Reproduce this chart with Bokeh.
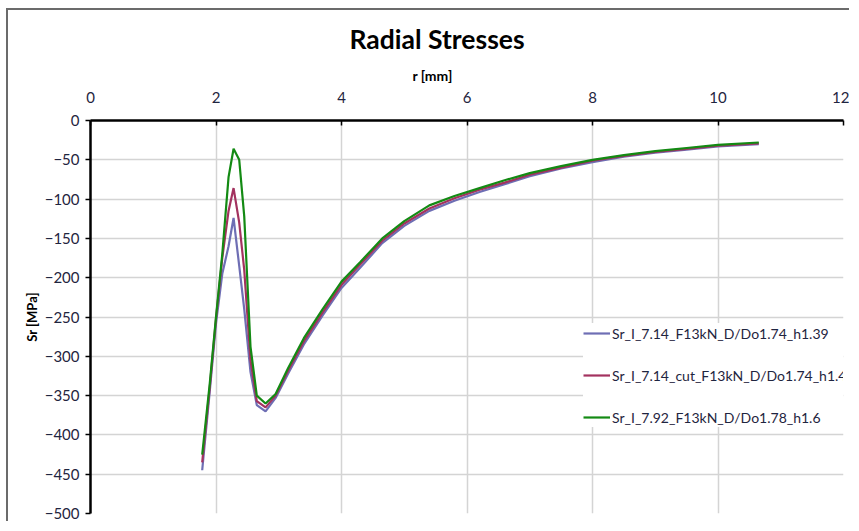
from bokeh.plotting import figure
from bokeh.models import FixedTicker, LinearAxis, Legend, LegendItem, Title, Range1d
from bokeh.embed import file_html
from bokeh.resources import INLINE

# radius values [mm]
r = [1.78, 1.9, 2.0, 2.1, 2.2, 2.28, 2.37, 2.45, 2.55, 2.65, 2.79, 2.95, 3.15,
     3.4, 3.7, 4.0, 4.3, 4.65, 5.0, 5.4, 5.8, 6.2, 6.6, 7.0, 7.5, 8.0, 8.5,
     9.0, 9.5, 10.0, 10.65]

sr_714 = [-445, -345, -258, -195, -160, -124, -185, -240, -320, -362, -370, -353,
          -322, -285, -248, -213, -187, -156, -134, -115, -102, -91, -81, -71,
          -61, -53, -46, -41, -37, -33, -30]

sr_714_cut = [-435, -340, -252, -175, -115, -86, -130, -190, -305, -357, -365,
              -350, -318, -281, -244, -209, -183, -153, -131, -112, -99, -88,
              -79, -69, -60, -51, -45, -40, -36, -32, -29]

sr_792 = [-425, -335, -250, -170, -72, -36, -50, -122, -288, -350, -360, -348,
          -315, -277, -240, -205, -180, -150, -128, -108, -96, -86, -76, -67,
          -58, -50, -44, -39, -35, -31, -28]

names = ["Sr_I_7.14_F13kN_D/Do1.74_h1.39",
         "Sr_I_7.14_cut_F13kN_D/Do1.74_h1.44",
         "Sr_I_7.92_F13kN_D/Do1.78_h1.6"]
colors = ["#6E6EB4", "#A3325F", "#138A13"]

x_ticks = [0, 2, 4, 6, 8, 10, 12]
y_ticks = [0, -50, -100, -150, -200, -250, -300, -350, -400, -450, -500]

FONT = "Lato"
TICK_COLOR = "#1f2540"

p = figure(width=843, height=513, output_backend="svg", toolbar_location=None,
           x_range=Range1d(0, 12), y_range=Range1d(-500, 0),
           x_axis_location=None, y_axis_location=None,
           min_border_left=82, min_border_right=8, min_border_top=110,
           min_border_bottom=10)
p.styles = {"border-left": "2px solid #6b6b6b", "border-top": "2px solid #6b6b6b",
            "margin-left": "6px", "margin-top": "8px"}
p.outline_line_color = None
p.background_fill_color = "white"
p.border_fill_color = "white"

xaxis = LinearAxis(ticker=FixedTicker(ticks=x_ticks))
xaxis.axis_line_width = 2.5
xaxis.axis_line_color = "black"
xaxis.major_tick_in = 5
xaxis.major_tick_out = 0
xaxis.major_tick_line_color = "black"
xaxis.major_tick_line_width = 1.5
xaxis.minor_tick_line_color = None
xaxis.major_label_standoff = 18
xaxis.major_label_text_font = FONT
xaxis.major_label_text_font_size = "15px"
xaxis.major_label_text_color = TICK_COLOR
p.add_layout(xaxis, "above")

xlabel = Title(text="r [mm]", align="left", offset=322,
               text_font=FONT, text_font_size="14px", text_font_style="bold",
               text_color="black", standoff=9)
p.add_layout(xlabel, "above")

yaxis = LinearAxis(ticker=FixedTicker(ticks=y_ticks), axis_label="Sr [MPa]")
yaxis.axis_line_width = 2.5
yaxis.axis_line_color = "black"
yaxis.major_tick_in = 0
yaxis.major_tick_out = 5
yaxis.major_tick_line_color = "black"
yaxis.major_tick_line_width = 1.5
yaxis.minor_tick_line_color = None
yaxis.major_label_standoff = 6
yaxis.major_label_text_font = FONT
yaxis.major_label_text_font_size = "15px"
yaxis.major_label_text_color = TICK_COLOR
yaxis.axis_label_text_font = FONT
yaxis.axis_label_text_font_style = "bold"
yaxis.axis_label_text_font_size = "13px"
yaxis.axis_label_text_color = "black"
yaxis.axis_label_standoff = 2
p.add_layout(yaxis, "left")

p.xgrid.ticker = FixedTicker(ticks=x_ticks)
p.ygrid.ticker = FixedTicker(ticks=y_ticks)
for g in (p.xgrid, p.ygrid):
    g.grid_line_color = "#D4D4D4"
    g.grid_line_width = 1.5

title = Title(text="Radial Stresses", align="left", offset=259,
              text_font=FONT, text_font_size="26.5px", text_font_style="bold",
              text_color="black", standoff=12)
p.add_layout(title, "above")

items = []
for ys, name, col in zip([sr_714, sr_714_cut, sr_792], names, colors):
    rl = p.line(r, ys, line_color=col, line_width=2.2)
    items.append(LegendItem(label=name, renderers=[rl]))

legend = Legend(items=items, location=(493, 86))
legend.border_line_color = None
legend.background_fill_color = "white"
legend.background_fill_alpha = 1.0
legend.padding = 11
legend.spacing = 22
legend.glyph_width = 27
legend.glyph_height = 20
legend.label_height = 20
legend.label_standoff = 2
legend.margin = 0
legend.label_text_font = FONT
legend.label_text_font_size = "14px"
legend.label_text_color = "#1f2540"
p.add_layout(legend, "center")

open("out.html", "w").write(file_html(p, INLINE))
